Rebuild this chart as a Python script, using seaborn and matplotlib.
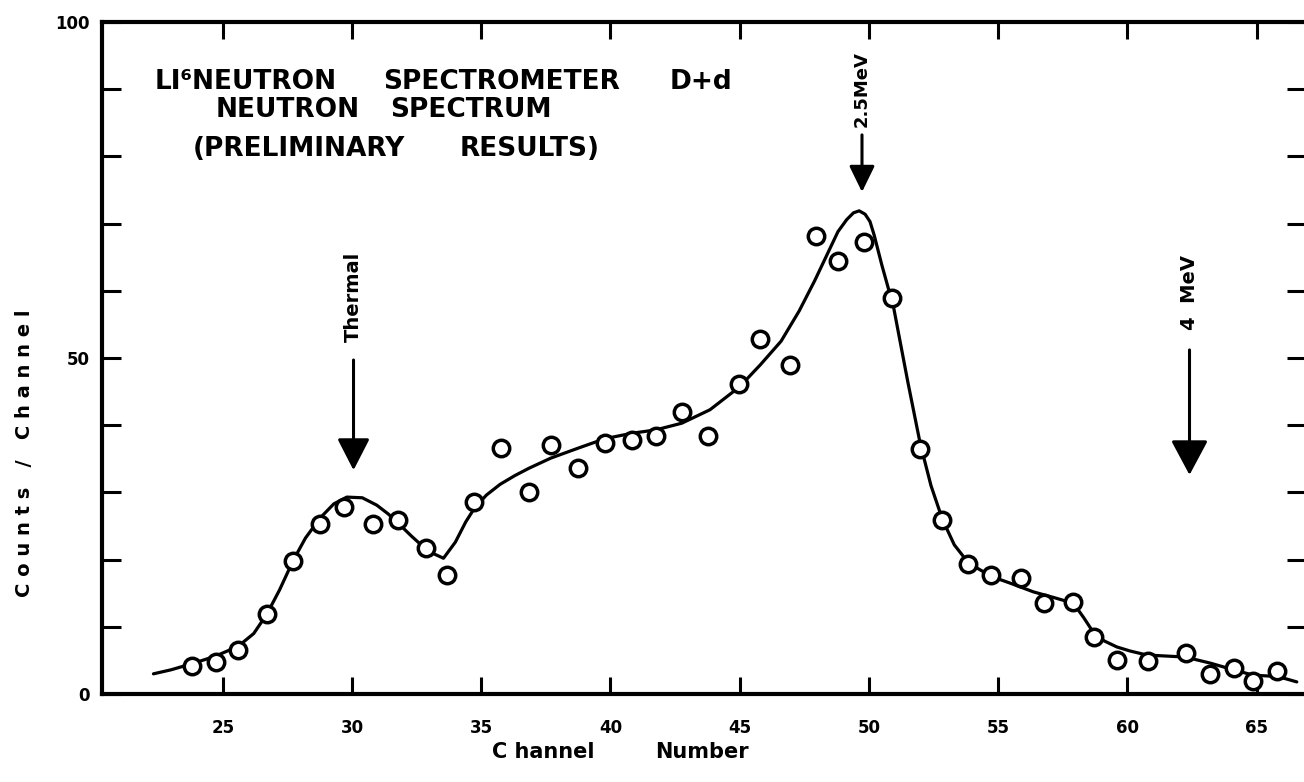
import matplotlib
matplotlib.use("Agg")
import matplotlib.pyplot as plt
from matplotlib.ticker import FixedLocator, FixedFormatter
import seaborn as sns
import pandas as pd

# Measured counts per channel (open circles)
channel = [23.80, 24.74, 25.61, 26.71, 27.73, 28.77, 29.70, 30.81, 31.80, 32.86,
           33.67, 34.73, 35.77, 36.85, 37.69, 38.76, 39.79, 40.83, 41.77, 42.76,
           43.79, 44.99, 45.79, 46.95, 47.94, 48.82, 49.79, 50.91, 51.98, 52.84,
           53.85, 54.73, 55.87, 56.78, 57.90, 58.71, 59.60, 60.78, 62.25, 63.18,
           64.13, 64.85, 65.79]
counts = [4.2, 4.8, 6.6, 11.9, 19.8, 25.3, 27.8, 25.3, 25.9, 21.8,
          17.7, 28.6, 36.6, 30.0, 37.0, 33.6, 37.3, 37.8, 38.4, 42.0,
          38.4, 46.2, 52.9, 49.0, 68.2, 64.4, 67.2, 59.0, 36.4, 25.9,
          19.4, 17.7, 17.3, 13.5, 13.7, 8.5, 5.1, 4.9, 6.1, 3.0,
          3.8, 2.0, 3.4]

# Hand-drawn fit through the spectrum
fit_channel = [22.32, 23.00, 23.80, 24.70, 25.60, 26.20, 26.71, 27.20, 27.73, 28.20,
               28.77, 29.30, 29.80, 30.40, 30.96, 31.40, 31.74, 32.30, 32.76, 33.20,
               33.54, 34.00, 34.40, 34.73, 35.20, 35.73, 36.30, 36.85, 37.69, 38.76,
               39.79, 40.83, 41.75, 42.76, 43.85, 44.99, 45.80, 46.60, 47.30, 47.90,
               48.43, 48.80, 49.14, 49.40, 49.62, 49.85, 50.04, 50.20, 50.50, 50.95,
               51.50, 51.98, 52.40, 52.84, 53.30, 53.85, 54.73, 55.46, 56.36, 57.20,
               57.91, 58.30, 58.71, 59.10, 59.59, 60.10, 60.75, 62.23, 63.20, 64.10,
               64.87, 65.82, 66.55]
fit_counts = [3.0, 3.6, 4.5, 5.6, 7.1, 9.0, 11.9, 15.5, 19.9, 23.2,
              26.2, 28.3, 29.3, 29.2, 28.1, 26.8, 25.6, 23.5, 21.9, 20.8,
              20.2, 22.6, 25.6, 27.6, 29.6, 31.2, 32.5, 33.6, 35.1, 36.6,
              38.0, 38.8, 39.3, 40.3, 42.3, 45.7, 49.0, 52.5, 57.0, 61.5,
              65.8, 68.8, 70.6, 71.6, 71.9, 71.4, 70.3, 68.3, 63.8, 57.6,
              46.5, 37.3, 31.0, 26.0, 22.2, 19.5, 17.5, 16.5, 15.2, 14.3,
              13.5, 11.4, 9.0, 7.9, 7.0, 6.4, 5.8, 5.5, 4.6, 3.6,
              2.8, 2.6, 1.8]

x_ticks = [25, 30, 35, 40, 45, 50, 55, 60, 65]
y_ticks = [0, 10, 20, 30, 40, 50, 60, 70, 80, 90, 100]
y_tick_labels = ["0", "", "", "", "", "50", "", "", "", "", "100"]

# Energy markers: label, channel, arrow start, arrow tip, label centre
marker_labels = ["Thermal", "2.5MeV", "4  MeV"]
marker_channel = [30.06, 49.73, 62.40]
marker_start = [49.7, 83.2, 51.2]
marker_tip = [33.3, 74.7, 32.6]
marker_text_y = [59.1, 90.0, 59.7]
marker_text_size = [14, 13, 14]
marker_head = [(1.95, 1.0), (1.6, 0.78), (2.15, 1.15)]

# Heading words with their left edge / centre line in pixels
title_words = ["LI\u2076NEUTRON", "SPECTROMETER", "D+d",
               "NEUTRON", "SPECTRUM",
               "(PRELIMINARY", "RESULTS)"]
title_word_x = [155, 383, 670, 216, 390, 193, 460]
title_word_y = [82, 82, 82, 110, 110, 149, 149]

sns.set_theme(style="ticks")
plt.rcParams["font.family"] = ["DejaVu Sans"]
plt.rcParams["font.weight"] = "bold"
plt.rcParams["text.color"] = "black"
plt.rcParams["xtick.color"] = "black"
plt.rcParams["ytick.color"] = "black"
plt.rcParams["xtick.labelcolor"] = "black"
plt.rcParams["ytick.labelcolor"] = "black"

W, H = 1304, 782
fig = plt.figure(figsize=(W / 100, H / 100), dpi=100)
fig.patch.set_facecolor("white")
ax = fig.add_axes([102 / W, 88 / H, (1306 - 102) / W, 672 / H])
ax.set_facecolor("white")

x0 = 20.33
ax.set_xlim(x0, x0 + 1204 / 25.85)
ax.set_ylim(0, 100)

sns.lineplot(x=fit_channel, y=fit_counts, sort=False, estimator=None,
             color="black", linewidth=2.3, ax=ax, zorder=2,
             solid_joinstyle="round", solid_capstyle="round")
pts = pd.DataFrame({"channel": channel, "counts": counts})
sns.scatterplot(data=pts, x="channel", y="counts", marker="o", s=140,
                color="white", edgecolor="black", linewidth=2.5,
                ax=ax, zorder=3, clip_on=False)

# Energy arrows with rotated captions
for lab, cx, y0, y1, ty, fs, (hl, hw) in zip(marker_labels, marker_channel, marker_start,
                                             marker_tip, marker_text_y, marker_text_size,
                                             marker_head):
    ax.annotate("", xy=(cx, y1), xytext=(cx, y0),
                arrowprops=dict(arrowstyle=f"-|>,head_length={hl},head_width={hw}",
                                mutation_scale=10, color="black", lw=2.2,
                                shrinkA=0, shrinkB=0))
    ax.text(cx, ty, lab, rotation=90, ha="center", va="center",
            fontsize=fs, fontweight="bold", color="black")

# Frame and ticks
for side in ["left", "right", "top", "bottom"]:
    ax.spines[side].set_visible(True)
    ax.spines[side].set_linewidth(3.0)
    ax.spines[side].set_color("black")

ax.xaxis.set_major_locator(FixedLocator(x_ticks))
ax.set_xticklabels([str(t) for t in x_ticks])
ax.yaxis.set_major_locator(FixedLocator(y_ticks))
ax.yaxis.set_major_formatter(FixedFormatter(y_tick_labels))
ax.tick_params(axis="x", which="major", direction="in", top=True, bottom=True,
               length=12, width=2.2, pad=18, labelsize=12, colors="black")
ax.tick_params(axis="y", which="major", direction="in", left=True, right=True,
               length=14, width=2.2, pad=9, labelsize=12, colors="black")
for lbl in ax.get_xticklabels() + ax.get_yticklabels():
    lbl.set_fontweight("bold")
ax.set_xlabel("")
ax.set_ylabel("")

# Figure-level labels
fig.text(25 / W, 1 - 453 / H, "C o u n t s   /   C h a n n e l", rotation=90,
         ha="center", va="center", fontsize=14, fontweight="bold", color="black")
fig.text(543 / W, 1 - 752 / H, "C hannel", ha="center", va="center",
         fontsize=15, fontweight="bold", color="black")
fig.text(702 / W, 1 - 752 / H, "Number", ha="center", va="center",
         fontsize=15, fontweight="bold", color="black")

# Panel heading
for word, tx, ty in zip(title_words, title_word_x, title_word_y):
    fig.text(tx / W, 1 - ty / H, word, ha="left", va="center",
             fontsize=19, fontweight="bold", color="black")

fig.savefig("out.png", dpi=100, facecolor="white")
